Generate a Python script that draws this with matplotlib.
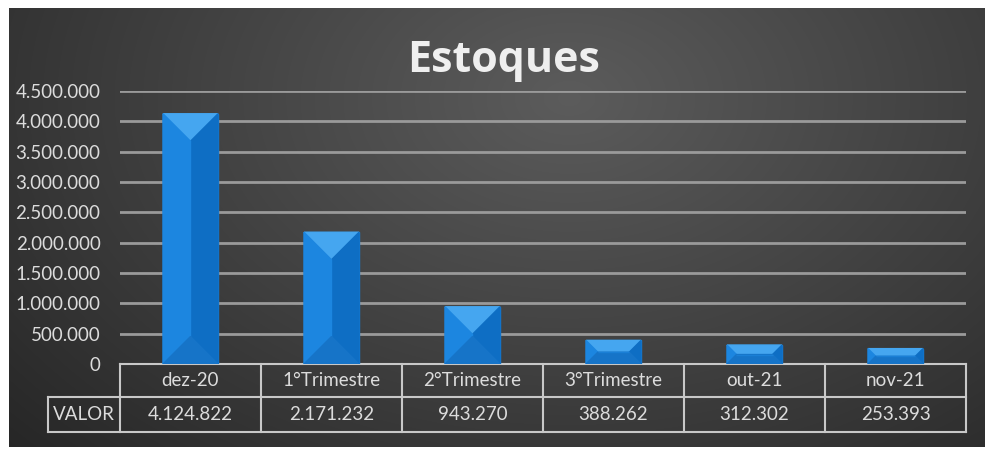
import numpy as np
import matplotlib.pyplot as plt
from matplotlib.patches import Polygon, Rectangle

# dados
categorias = ['dez-20', '1°Trimestre', '2°Trimestre', '3°Trimestre', 'out-21', 'nov-21']
valores = [4124822, 2171232, 943270, 388262, 312302, 253393]
rotulos = ['4.124.822', '2.171.232', '943.270', '388.262', '312.302', '253.393']
yticks = [0, 500000, 1000000, 1500000, 2000000, 2500000, 3000000, 3500000, 4000000, 4500000]

W, H = 985, 449
fig = plt.figure(figsize=(W / 100, H / 100), dpi=100)
fig.patch.set_facecolor('white')

# fundo escuro com gradiente radial
bg = fig.add_axes([9 / W, 2 / H, (W - 9) / W, (H - 10) / H])
bg.set_axis_off()
yy, xx = np.mgrid[0:440, 0:976]
r = np.sqrt(((xx - 560) / 620.0) ** 2 + ((yy - 90) / 420.0) ** 2)
g = np.clip(0.36 - 0.17 * r, 0.15, 0.4)
bg.imshow(np.dstack([g, g, g]), aspect='auto', extent=[0, 1, 0, 1])

txt = '#dcdcdc'
ax = fig.add_axes([120 / W, (H - 364) / H, 846 / W, 273 / H])
ax.patch.set_alpha(0)
ax.set_xlim(-0.5, len(categorias) - 0.5)
ax.set_ylim(0, 4500000)
ax.set_yticks(yticks)
ax.set_yticklabels(['0' if v == 0 else f'{v:,}'.replace(',', '.') for v in yticks],
                   fontsize=13.5, color=txt, family='Lato')
ax.tick_params(axis='y', length=0, pad=14)
ax.set_xticks([])
for s in ax.spines.values():
    s.set_visible(False)
ax.grid(axis='y', color='#9a9a9a', linewidth=2)
ax.set_axisbelow(True)

# barras com efeito chanfrado
bw = 0.39
fig.canvas.draw()
t = ax.transData
px_x = t.transform((1, 0))[0] - t.transform((0, 0))[0]
px_y = t.transform((0, 1e6))[1] - t.transform((0, 0))[1]
for i, v in enumerate(valores):
    x0, x1 = i - bw / 2, i + bw / 2
    half_px = bw / 2 * px_x
    d = min(half_px, v / 1e6 * px_y / 2)
    dx = d / px_x
    dy = d / px_y * 1e6
    ax.add_patch(Rectangle((x0, 0), bw, v, color='#1a80d8', zorder=3))
    ax.add_patch(Polygon([(x0, v), (x1, v), (x1 - dx, v - dy), (x0 + dx, v - dy)],
                         color='#45a6f0', zorder=4))
    ax.add_patch(Polygon([(x1, v), (x1, 0), (x1 - dx, dy), (x1 - dx, v - dy)],
                         color='#0e6ec4', zorder=4))
    ax.add_patch(Polygon([(x0, v), (x0, 0), (x0 + dx, dy), (x0 + dx, v - dy)],
                         color='#1c86e0', zorder=4))
    ax.add_patch(Polygon([(x0, 0), (x1, 0), (x1 - dx, dy), (x0 + dx, dy)],
                         color='#1674c8', zorder=4))
    if dx < bw / 2:
        ax.add_patch(Rectangle((x0 + dx, dy), bw - 2 * dx, v - 2 * dy, color='#1a7fd6', zorder=4))

# tabela de dados
lc = '#c8c8c8'
ya, yb = -33 / 273, -68 / 273
xv = -0.5 - 72 / px_x
kw = dict(color=lc, linewidth=1.5, clip_on=False, transform=ax.get_xaxis_transform())
ax.plot([-0.5, 5.5], [0, 0], **kw)
ax.plot([xv, 5.5], [ya, ya], **kw)
ax.plot([xv, 5.5], [yb, yb], **kw)
ax.plot([xv, xv], [ya, yb], **kw)
for i in range(len(categorias) + 1):
    ax.plot([i - 0.5, i - 0.5], [0, yb], **kw)
for i, (c, r_) in enumerate(zip(categorias, rotulos)):
    ax.text(i, ya / 2, c, ha='center', va='center', fontsize=13.5, color=txt,
            family='Lato', transform=ax.get_xaxis_transform())
    ax.text(i, (ya + yb) / 2, r_, ha='center', va='center', fontsize=13.5, color=txt,
            family='Lato', transform=ax.get_xaxis_transform())
ax.text((xv - 0.5) / 2, (ya + yb) / 2, 'VALOR', ha='center', va='center', fontsize=13.5,
        color=txt, family='Lato', transform=ax.get_xaxis_transform())

fig.text(504 / W, 1 - 60 / H, 'Estoques', ha='center', va='center', fontsize=31,
         fontweight='bold', color='#efefef', family='Open Sans')

fig.savefig('out.png', dpi=100)
